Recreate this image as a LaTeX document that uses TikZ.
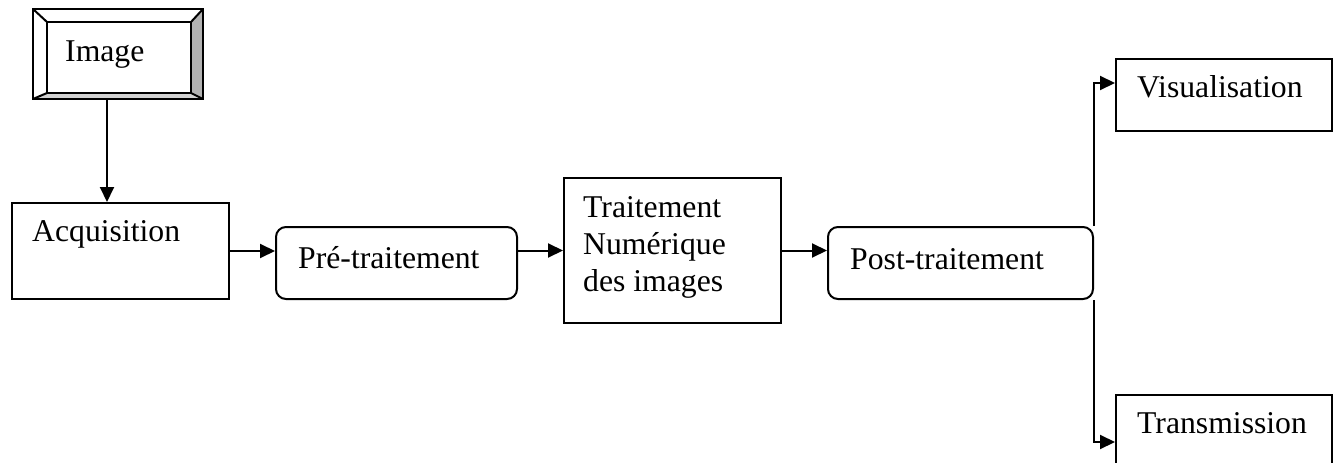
\documentclass[tikz,border=0pt]{standalone}
\usepackage{fontspec}
\setmainfont{Liberation Serif}
\usetikzlibrary{arrows.meta}

\begin{document}
\begin{tikzpicture}[x=1pt, y=-1pt,
		every node/.style={font=\fontsize{31.7pt}{37pt}\selectfont, inner sep=0pt},
		box/.style={draw, line width=2pt, anchor=north west},
		roundbox/.style={box, rounded corners=10pt},
		lbl/.style={anchor=base west},
		arr/.style={line width=2pt, -{Triangle[length=15pt,width=14pt]}}]
	\clip (0,0) rectangle (1339,463);
	
	% bevelled frame of the image
	\coordinate (A) at (33,9);
	\coordinate (B) at (203,9);
	\coordinate (C) at (203,99);
	\coordinate (D) at (33,99);
	\coordinate (a) at (47,22);
	\coordinate (b) at (191,22);
	\coordinate (c) at (191,93);
	\coordinate (d) at (47,93);
	\fill[gray!60] (B) -- (C) -- (c) -- (b) -- cycle;
	\fill[gray!35] (D) -- (C) -- (c) -- (d) -- cycle;
	\draw[line width=2pt] (A) rectangle (C);
	\draw[line width=2pt] (a) rectangle (c);
	\draw[line width=2pt] (A) -- (a) (B) -- (b) (C) -- (c) (D) -- (d);
	\node (img) [minimum width=170pt, minimum height=90pt, anchor=north west] at (A) {};
	\node (imglbl) [lbl] at (65,61) {Image};
	
	% boxes
	\node (acq) [box, minimum width=217pt, minimum height=96pt] at (11,202) {};
	\node (acqlbl) [lbl] at (32,241) {Acquisition};
	
	\node (pre) [roundbox, minimum width=241pt, minimum height=72pt] at (275,226) {};
	\node (prelbl) [lbl] at (298,268) {Pré-traitement};
	
	\node (trait) [box, minimum width=217pt, minimum height=145pt] at (563,177) {};
	\node (traitlbl) [lbl, align=left] at (583,291) {Traitement\\Numérique\\des images};
	
	\node (post) [roundbox, minimum width=265pt, minimum height=72pt] at (827,226) {};
	\node (postlbl) [lbl] at (850,269) {Post-traitement};
	
	\node (visu) [box, minimum width=216pt, minimum height=72pt] at (1115,58) {};
	\node (visulbl) [lbl] at (1137,97) {Visualisation};
	
	\node (trans) [box, minimum width=216pt, minimum height=90pt] at (1115,394) {};
	\node (translbl) [lbl] at (1137,433) {Transmission};
	
	% connectors
	\coordinate (acqin) at (107,202);
	\coordinate (visin) at (1115,83);
	\coordinate (transin) at (1115,442);
	\draw[arr] (img.south -| acqin) -- (acqin);
	\draw[arr] (acq.east) -- (acq.east -| pre.west);
	\draw[arr] (pre.east |- trait.west) -- (trait.west);
	\draw[arr] (trait.east) -- (trait.east -| post.west);
	\draw[arr] (post.north east) |- (visin);
	\draw[arr] (post.south east) |- (transin);
	
\end{tikzpicture}
\end{document}
